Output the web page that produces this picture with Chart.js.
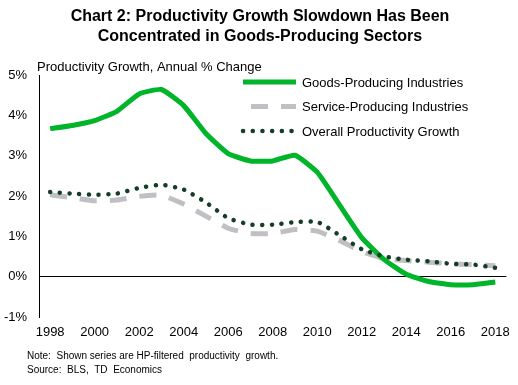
<!DOCTYPE html>
<html>
<head>
<meta charset="utf-8">
<script src="https://cdn.jsdelivr.net/npm/chart.js@4"></script>
<style>
  html, body { margin: 0; padding: 0; background: #fff; }
  #wrap { width: 518px; height: 385px; position: relative; }
</style>
</head>
<body>
<div id="wrap"><canvas id="chart" width="518" height="385"></canvas></div>
<script>
const years = ['1998','1999','2000','2001','2002','2003','2004','2005','2006','2007','2008',
  '2009','2010','2011','2012','2013','2014','2015','2016','2017','2018'];
const goods = [3.67, 3.75, 3.87, 4.1, 4.53, 4.64, 4.24, 3.55, 3.05, 2.87, 2.87,
  3.01, 2.59, 1.78, 0.97, 0.43, 0.06, -0.12, -0.2, -0.2, -0.13];
const services = [2.03, 1.96, 1.88, 1.9, 1.99, 2.02, 1.8, 1.5, 1.2, 1.07, 1.07,
  1.17, 1.13, 0.9, 0.62, 0.45, 0.4, 0.36, 0.32, 0.3, 0.27];
const overall = [2.1, 2.06, 2.03, 2.06, 2.2, 2.28, 2.16, 1.84, 1.45, 1.29, 1.29,
  1.35, 1.36, 1.03, 0.68, 0.5, 0.42, 0.38, 0.32, 0.3, 0.22];
const yTicks = [-1, 0, 1, 2, 3, 4, 5];

const FONT = '"Liberation Sans", Arial, sans-serif';
const GREEN = '#00b52a';
const GREY = '#c0c0c4';
const DARK = '#163d28';

// draws title, subtitle, legend and notes
const textPlugin = {
  id: 'texts',
  afterDraw(chart) {
    const c = chart.ctx;
    c.save();
    c.fillStyle = '#000';
    c.textBaseline = 'middle';
    c.textAlign = 'center';
    c.font = 'bold 16px ' + FONT;
    c.fillText('Chart 2: Productivity Growth Slowdown Has Been', 260, 17);
    c.fillText('Concentrated in Goods-Producing Sectors', 260, 37);
    c.textAlign = 'left';
    c.font = '13px ' + FONT;
    c.fillText('Productivity Growth, Annual % Change', 37, 67);
    c.font = '10px ' + FONT;
    c.fillText('Note:  Shown series are HP-filtered  productivity  growth.', 27, 356);
    c.fillText('Source:  BLS,  TD  Economics', 27, 370);

    const rows = [0, 1, 2];
    rows.forEach((i) => {
      const ds = chart.data.datasets[i];
      const y = 82 + i * 24.5;
      c.beginPath();
      c.strokeStyle = ds.borderColor;
      c.lineWidth = ds.borderWidth;
      c.lineCap = ds.borderCapStyle || 'butt';
      c.setLineDash(ds.borderDash || []);
      c.lineDashOffset = ds.legendDashOffset || 0;
      c.moveTo(243, y);
      c.lineTo(296, y);
      c.stroke();
      c.setLineDash([]);
      c.fillStyle = '#000';
      c.font = '13px ' + FONT;
      c.fillText(ds.label, 302, y + 1);
    });
    c.restore();
  }
};

new Chart(document.getElementById('chart'), {
  type: 'line',
  data: {
    labels: years,
    datasets: [
      {
        label: 'Goods-Producing Industries',
        data: goods,
        borderColor: GREEN,
        borderWidth: 5,
        tension: 0.15,
        pointRadius: 0,
        order: 2
      },
      {
        label: 'Service-Producing Industries',
        data: services,
        borderColor: GREY,
        borderWidth: 5,
        borderDash: [17, 13],
        legendDashOffset: -8,
        tension: 0.15,
        pointRadius: 0,
        order: 3
      },
      {
        label: 'Overall Productivity Growth',
        data: overall,
        borderColor: DARK,
        borderWidth: 4.5,
        borderDash: [0.1, 9.6],
        borderCapStyle: 'round',
        tension: 0.15,
        pointRadius: 0,
        order: 1
      }
    ]
  },
  options: {
    responsive: false,
    animation: false,
    layout: { padding: { top: 75, right: 11, left: 0, bottom: 0 } },
    plugins: {
      legend: { display: false },
      tooltip: { enabled: false }
    },
    scales: {
      x: {
        offset: true,
        afterFit(scale) { scale.height = 68; },
        grid: { display: false, drawTicks: false },
        border: { display: false },
        ticks: {
          autoSkip: false,
          maxRotation: 0,
          padding: 8,
          color: '#000',
          font: { family: FONT, size: 13 },
          callback(v, i) { return i % 2 === 0 ? years[i] : ''; }
        }
      },
      y: {
        min: yTicks[0],
        max: yTicks[yTicks.length - 1],
        afterFit(scale) { scale.width = 39; },
        afterBuildTicks(scale) { scale.ticks = yTicks.map((v) => ({ value: v })); },
        grid: {
          drawTicks: false,
          lineWidth: 1,
          color: (ctx) => (ctx.tick && ctx.tick.value === 0 ? '#000' : 'rgba(0,0,0,0)')
        },
        border: { display: true, color: '#000', width: 1 },
        ticks: {
          padding: 12,
          color: '#000',
          font: { family: FONT, size: 13 },
          callback(v) { return v + '%'; }
        }
      }
    }
  },
  plugins: [textPlugin]
});
</script>
</body>
</html>
